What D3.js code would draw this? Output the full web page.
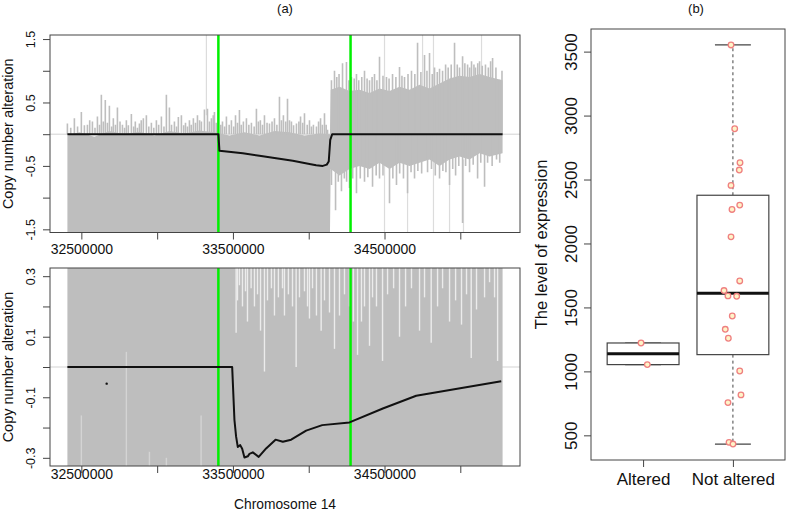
<!DOCTYPE html>
<html><head><meta charset="utf-8">
<script src="https://cdn.jsdelivr.net/npm/d3@7"></script>
<style>
body{margin:0;background:#fff}
text{font-family:"Liberation Sans",Arial,Helvetica,sans-serif;fill:#111}
</style></head>
<body>
<svg id="chart" width="787" height="515"></svg>
<script>
// ---------------- DATA ----------------
// genomic positions in Mb (labels shown in bp)
const probeRange = [32.408, 35.279];
const breakpoints = [33.404, 34.276];
const xTickPos = [32.5, 33.0, 33.5, 34.0, 34.5, 35.0];
const xTickLabels = ["32500000", "", "33500000", "", "34500000", ""];

const topYTicks = [-1.5, -1, -0.5, 0, 0.5, 1, 1.5];
const topYLabels = ["-1.5", "", "-0.5", "", "0.5", "", "1.5"];
const botYTicks = [-0.3, -0.2, -0.1, 0, 0.1, 0.2, 0.3];
const botYLabels = ["-0.3", "", "-0.1", "", "0.1", "", "0.3"];

// top panel: dense band of raw copy-number signal (envelope)
const topBodyPos = [32.408, 32.487, 32.586, 32.685, 32.784, 32.883, 32.982, 33.081, 33.180, 33.279, 33.378, 33.477, 33.576, 33.675, 33.774, 33.873, 33.972, 34.071, 34.140,
  34.145, 34.203, 34.269, 34.335, 34.401, 34.467, 34.533, 34.599, 34.665, 34.731, 34.797, 34.863, 34.929, 34.995, 35.061, 35.127, 35.193, 35.279];
const topBodyHigh = [-0.02, 0.03, -0.04, 0.05, 0.0, 0.04, -0.02, 0.05, 0.01, 0.06, 0.03, -0.02, 0.03, -0.02, 0.05, 0.03, -0.02, 0.01, 0.0,
  0.7, 0.75, 0.68, 0.7, 0.65, 0.72, 0.68, 0.75, 0.7, 0.78, 0.72, 0.8, 0.88, 0.92, 0.9, 0.95, 0.9, 0.85];
const topBodyLow = [-1.6, -1.6, -1.6, -1.6, -1.6, -1.6, -1.6, -1.6, -1.6, -1.6, -1.6, -1.6, -1.6, -1.6, -1.6, -1.6, -1.6, -1.6, -1.6,
  -0.55, -0.65, -0.55, -0.5, -0.55, -0.45, -0.55, -0.45, -0.5, -0.45, -0.4, -0.5, -0.4, -0.35, -0.4, -0.3, -0.35, -0.3];

// top panel: individual spikes of the raw signal
const topSpikePos = [32.408, 32.43, 32.454, 32.475, 32.50, 32.52, 32.54, 32.555, 32.573, 32.59, 32.606, 32.62, 32.632, 32.645, 32.658, 32.672, 32.685, 32.70, 32.711, 32.725, 32.738, 32.755, 32.771, 32.785, 32.797, 32.81, 32.83, 32.845, 32.856, 32.87, 32.883, 32.895, 32.909, 32.929, 32.945, 32.962, 32.978, 32.995, 33.01, 33.028, 33.045, 33.061, 33.081, 33.095, 33.114, 33.128, 33.140, 33.160, 33.175, 33.187, 33.20, 33.213, 33.225, 33.239, 33.253, 33.266, 33.28, 33.292, 33.312, 33.332, 33.345, 33.358, 33.37, 33.378, 33.39,
  33.42, 33.431, 33.445, 33.457, 33.475, 33.490, 33.505, 33.517, 33.53, 33.543, 33.555, 33.569, 33.589, 33.605, 33.622, 33.64, 33.655, 33.668, 33.681, 33.695, 33.708, 33.725, 33.741, 33.758, 33.774, 33.79, 33.807, 33.82, 33.833, 33.848, 33.860, 33.873, 33.886, 33.90, 33.919, 33.935, 33.946, 33.96, 33.972, 33.99, 34.005, 34.018, 34.031, 34.051, 34.065, 34.078, 34.09, 34.104, 34.115, 34.124,
  34.15, 34.17, 34.185, 34.20, 34.223, 34.249, 34.265, 34.282, 34.30, 34.315, 34.33, 34.35, 34.368, 34.385, 34.401, 34.418, 34.434, 34.45, 34.467, 34.49, 34.513, 34.53, 34.553, 34.575, 34.599, 34.615, 34.632, 34.655, 34.678, 34.70, 34.718, 34.74, 34.764, 34.78, 34.797, 34.815, 34.830, 34.848, 34.863, 34.883, 34.903, 34.92, 34.94, 34.962, 34.98, 34.995, 35.015, 35.03, 35.048, 35.062, 35.074, 35.09, 35.100, 35.115, 35.127, 35.145, 35.166, 35.185, 35.20, 35.213, 35.235, 35.259, 35.275,
  34.15, 34.177, 34.195, 34.216, 34.235, 34.250, 34.269, 34.29, 34.315, 34.34, 34.368, 34.39, 34.421, 34.445, 34.467, 34.49, 34.533, 34.555, 34.579, 34.60, 34.625, 34.652, 34.675, 34.698, 34.72, 34.745, 34.784, 34.81, 34.835, 34.863, 34.885, 34.905, 34.929, 34.95, 34.969, 34.99, 35.015, 35.035, 35.061, 35.085, 35.114, 35.135, 35.160, 35.18, 35.21, 35.239, 35.26];
const topSpikeVal = [0.17, 0.1, 0.25, 0.12, 0.35, 0.14, 0.15, 0.22, 0.2, 0.1, 0.28, 0.15, 0.62, 0.2, 0.54, 0.18, 0.45, 0.12, 0.25, 0.15, 0.42, 0.2, 0.15, 0.1, 0.22, 0.14, 0.32, 0.12, 0.2, 0.1, 0.17, 0.22, 0.25, 0.3, 0.12, 0.18, 0.1, 0.22, 0.15, 0.28, 0.12, 0.62, 0.42, 0.15, 0.2, 0.12, 0.27, 0.3, 0.14, 0.18, 0.12, 0.22, 0.15, 0.25, 0.18, 0.3, 0.22, 0.2, 0.39, 0.4, 0.2, 0.25, 0.3, 0.35, 0.18,
  0.15, 0.2, 0.12, 0.28, 0.15, 0.22, 0.12, 0.3, 0.18, 0.38, 0.15, 0.2, 0.25, 0.15, 0.18, 0.12, 0.4, 0.2, 0.22, 0.15, 0.3, 0.18, 0.17, 0.2, 0.25, 0.15, 0.59, 0.22, 0.3, 0.2, 0.56, 0.22, 0.2, 0.14, 0.17, 0.2, 0.28, 0.18, 0.33, 0.15, 0.22, 0.12, 0.15, 0.12, 0.2, 0.25, 0.15, 0.33, 0.15, 0.07,
  0.85, 1.0, 0.9, 0.95, 1.12, 1.14, 0.85, 0.9, 0.88, 0.95, 0.85, 0.9, 1.0, 0.88, 0.85, 0.9, 0.95, 0.85, 1.22, 0.92, 0.9, 0.88, 0.95, 0.9, 1.06, 0.92, 0.9, 0.95, 1.0, 0.95, 1.44, 0.98, 1.25, 1.0, 1.28, 0.95, 1.05, 0.98, 1.03, 1.0, 1.1, 1.05, 1.1, 1.44, 1.1, 1.05, 1.23, 1.12, 1.1, 1.05, 1.15, 1.1, 1.05, 1.12, 1.15, 1.08, 1.1, 1.05, 1.15, 1.2, 1.05, 0.86, 1.0,
  -0.8, -1.2, -0.75, -0.9, -0.7, -0.75, -0.85, -0.7, -0.93, -0.7, -0.75, -0.68, -0.83, -0.65, -0.7, -0.65, -1.09, -0.7, -0.8, -0.62, -0.7, -0.93, -0.6, -0.7, -0.58, -0.62, -0.6, -0.55, -0.65, -0.7, -0.58, -0.6, -0.8, -0.55, -0.65, -0.5, -1.4, -0.5, -0.6, -0.48, -0.7, -0.45, -0.83, -0.45, -0.5, -0.4, -0.45];

// top panel: isolated extreme probes (faint lines)
const topFaintPos = [33.325, 34.500, 34.652, 34.751, 34.823, 34.929, 35.021, 35.140];
const topFaintLo = [0.3, -1.6, -1.6, 0.5, -1.6, -1.6, -1.6, 0.5];
const topFaintHi = [1.6, 1.6, -0.4, 1.6, 1.6, -0.4, -0.4, 1.6];

// top panel: smoothed segment (black line)
const topLinePos = [32.408, 33.404, 33.411, 33.565, 33.675, 33.785, 33.895, 34.005, 34.049, 34.093, 34.119, 34.132, 34.142, 34.155, 35.279];
const topLineVal = [0, 0, -0.26, -0.30, -0.34, -0.38, -0.42, -0.47, -0.49, -0.50, -0.48, -0.43, -0.09, 0, 0];

// bottom panel: raw signal fills the whole window; white gaps at top
const botBodyPos = [32.408, 35.279];
const botBodyHigh = [0.34, 0.34];
const botBodyLow = [-0.34, -0.34];
const botGapPos = [33.521, 33.530, 33.543, 33.563, 33.583, 33.596, 33.620, 33.642, 33.662, 33.682, 33.708, 33.728, 33.754, 33.774, 33.800, 33.827, 33.840, 33.866, 33.893, 33.917, 33.939, 33.972, 33.992, 34.005, 34.025, 34.051, 34.082, 34.104, 34.137, 34.170, 34.203, 34.236, 34.269, 34.295, 34.322, 34.348, 34.368, 34.401, 34.421, 34.447, 34.487, 34.520, 34.560, 34.599, 34.639, 34.678, 34.731, 34.764, 34.808, 34.850, 34.883, 34.929, 34.969, 35.008, 35.041, 35.072, 35.107, 35.160, 35.193, 35.226, 35.246];
const botGapVal = [0.113, 0.22, 0.27, 0.2, 0.25, 0.15, 0.26, 0.2, 0.24, 0.12, -0.015, 0.22, 0.26, 0.17, 0.23, 0.26, 0.17, 0.24, 0.2, 0.0, 0.23, 0.25, 0.2, 0.16, 0.26, 0.17, 0.12, 0.22, 0.18, 0.06, 0.17, 0.24, 0.2, 0.15, 0.04, 0.15, 0.2, 0.07, 0.23, 0.2, 0.02, 0.24, 0.26, 0.1, 0.2, 0.26, 0.12, 0.23, 0.08, 0.2, 0.26, 0.15, 0.22, 0.14, 0.24, 0.03, 0.19, 0.23, 0.28, 0.23, 0.02];
const botLightPos = [32.500, 32.797, 32.949, 33.061, 33.290];
const botLightTop = [-0.16, 0.05, -0.28, -0.30, -0.16];
const botDot = [32.667, -0.055];

// bottom panel: smoothed signal (black line)
const botLinePos = [32.408, 33.495, 33.510, 33.521, 33.532, 33.548, 33.561, 33.576, 33.598, 33.609, 33.631, 33.670, 33.719, 33.781, 33.829, 33.884, 33.983, 34.089, 34.269, 34.489, 34.709, 35.270];
const botLineVal = [0, 0, -0.175, -0.23, -0.264, -0.258, -0.27, -0.299, -0.295, -0.287, -0.282, -0.297, -0.269, -0.24, -0.247, -0.24, -0.21, -0.192, -0.183, -0.137, -0.095, -0.047];

// panel (b): expression levels
const groups = ["Altered", "Not altered"];
const alteredValues = [1222, 1053];
const alteredJitter = [-0.023, 0.047];
const notAlteredValues = [3552, 2897, 2631, 2574, 2454, 2300, 2266, 2052, 1707, 1632, 1590, 1587, 1433, 1329, 1259, 1003, 816, 756, 445, 432];
const notAlteredJitter = [-0.021, 0.02, 0.079, 0.071, -0.021, 0.076, -0.01, -0.021, 0.076, -0.099, -0.055, 0.042, -0.007, -0.085, -0.051, 0.076, 0.09, -0.055, -0.043, 0.001];
const boxYTicks = [500, 1000, 1500, 2000, 2500, 3000, 3500];

// ---------------- DRAW ----------------
const svg = d3.select("#chart");
const GREY = "#bebebe";
const L = 50, R = 520;

const span = probeRange[1] - probeRange[0];
const x = d3.scaleLinear().domain([probeRange[0] - 0.04 * span, probeRange[1] + 0.04 * span]).range([L, R]);

function zipArr(a, b, c) { return a.map((v, i) => ({pos: v, a: b[i], b: c ? c[i] : null})); }

function drawPanel(cfg) {
  const {top, bottom, y, id} = cfg;
  const g = svg.append("g");
  g.append("clipPath").attr("id", id).append("rect")
    .attr("x", L).attr("y", top).attr("width", R - L).attr("height", bottom - top);
  const c = g.append("g").attr("clip-path", `url(#${id})`);

  c.append("line").attr("x1", L).attr("x2", R).attr("y1", y(0)).attr("y2", y(0))
    .attr("stroke", "#d3d3d3").attr("stroke-width", 1);

  cfg.drawSignal(c, y);

  c.selectAll("line.bp").data(breakpoints).join("line").attr("class", "bp")
    .attr("x1", d => x(d)).attr("x2", d => x(d)).attr("y1", top).attr("y2", bottom)
    .attr("stroke", "#00f000").attr("stroke-width", 2.5);

  const line = d3.line().x(d => x(d.pos)).y(d => y(d.a));
  c.append("path").datum(zipArr(cfg.linePos, cfg.lineVal)).attr("d", line)
    .attr("fill", "none").attr("stroke", "#111").attr("stroke-width", 2).attr("stroke-linejoin", "round");

  if (cfg.extra) cfg.extra(c, y);

  g.append("rect").attr("x", L).attr("y", top).attr("width", R - L).attr("height", bottom - top)
    .attr("fill", "none").attr("stroke", "#444").attr("stroke-width", 1);

  const xa = g.append("g").attr("transform", `translate(0,${bottom})`)
    .call(d3.axisBottom(x).tickValues(xTickPos).tickFormat((d, i) => xTickLabels[i]).tickSize(7).tickPadding(4));
  xa.select(".domain").remove();
  xa.selectAll("line").attr("stroke", "#444");
  xa.selectAll("text").attr("font-size", 14).attr("font-family", "Liberation Sans, Arial, sans-serif").attr("fill", "#111")
    .attr("dy", null).attr("y", cfg.xLabelBaseline - bottom);

  const ya = g.append("g").attr("transform", `translate(${L},0)`)
    .call(d3.axisLeft(y).tickValues(cfg.yTicks).tickFormat((d, i) => cfg.yLabels[i]).tickSize(7));
  ya.select(".domain").remove();
  ya.selectAll("line").attr("stroke", "#444");
  ya.selectAll("text").attr("font-size", 12.5).attr("font-family", "Liberation Sans, Arial, sans-serif").attr("fill", "#111")
    .attr("text-anchor", "middle").attr("dy", null).attr("x", 0).attr("y", -15).attr("transform", "rotate(-90)");

  g.append("text").attr("transform", `translate(13,${(top + bottom) / 2}) rotate(-90)`)
    .attr("text-anchor", "middle").attr("font-size", 14.5).text("Copy number alteration");
}

// top panel
const yTop = d3.scaleLinear().domain([-1.55, 1.564]).range([232.5, 35]);
drawPanel({
  id: "clipTop", top: 35, bottom: 232.5, y: yTop, xLabelBaseline: 254,
  yTicks: topYTicks, yLabels: topYLabels, linePos: topLinePos, lineVal: topLineVal,
  drawSignal: (c, y) => {
    c.selectAll("line.faint").data(zipArr(topFaintPos, topFaintLo, topFaintHi)).join("line").attr("class", "faint")
      .attr("x1", d => x(d.pos)).attr("x2", d => x(d.pos)).attr("y1", d => y(d.a)).attr("y2", d => y(d.b))
      .attr("stroke", "#dcdcdc").attr("stroke-width", 1.2);
    const area = d3.area().x(d => x(d.pos)).y0(d => y(d.b)).y1(d => y(d.a));
    c.append("path").datum(zipArr(topBodyPos, topBodyHigh, topBodyLow)).attr("d", area).attr("fill", GREY);
    c.selectAll("line.spike").data(zipArr(topSpikePos, topSpikeVal)).join("line").attr("class", "spike")
      .attr("x1", d => x(d.pos)).attr("x2", d => x(d.pos)).attr("y1", y(0)).attr("y2", d => y(d.a))
      .attr("stroke", GREY).attr("stroke-width", 1.6);
  }
});

// bottom panel
const yBot = d3.scaleLinear().domain([-0.327, 0.327]).range([466, 268]);
drawPanel({
  id: "clipBot", top: 268, bottom: 466, y: yBot, xLabelBaseline: 479,
  yTicks: botYTicks, yLabels: botYLabels, linePos: botLinePos, lineVal: botLineVal,
  drawSignal: (c, y) => {
    const area = d3.area().x(d => x(d.pos)).y0(d => y(d.b)).y1(d => y(d.a));
    c.append("path").datum(zipArr(botBodyPos, botBodyHigh, botBodyLow)).attr("d", area).attr("fill", GREY);
    c.selectAll("line.light").data(zipArr(botLightPos, botLightTop)).join("line").attr("class", "light")
      .attr("x1", d => x(d.pos)).attr("x2", d => x(d.pos)).attr("y1", y(-0.34)).attr("y2", d => y(d.a))
      .attr("stroke", "#d4d4d4").attr("stroke-width", 1.4);
    c.selectAll("line.gap").data(zipArr(botGapPos, botGapVal)).join("line").attr("class", "gap")
      .attr("x1", d => x(d.pos)).attr("x2", d => x(d.pos)).attr("y1", y(0.34)).attr("y2", d => y(d.a))
      .attr("stroke", "#fff").attr("stroke-opacity", 0.7).attr("stroke-width", 1.4);
  },
  extra: (c, y) => {
    c.append("circle").attr("cx", x(botDot[0])).attr("cy", y(botDot[1])).attr("r", 1.2).attr("fill", "#111");
  }
});

svg.append("text").attr("x", 285).attr("y", 509).attr("text-anchor", "middle").attr("font-size", 13.8).text("Chromosome 14");
svg.append("text").attr("x", 285).attr("y", 13).attr("text-anchor", "middle").attr("font-size", 13).text("(a)");

// ---------- panel (b) ----------
function fivenum(v) {
  const s = v.slice().sort((a, b) => a - b), n = s.length;
  const n4 = Math.floor((n + 3) / 2) / 2;
  return [1, n4, (n + 1) / 2, n + 1 - n4, n].map(k => 0.5 * (s[Math.floor(k) - 1] + s[Math.ceil(k) - 1]));
}
const groupData = [
  {name: groups[0], values: alteredValues, jitter: alteredJitter},
  {name: groups[1], values: notAlteredValues, jitter: notAlteredJitter}
];
groupData.forEach(gd => {
  const f = fivenum(gd.values);
  const iqr = f[3] - f[1];
  gd.q1 = f[1]; gd.med = f[2]; gd.q3 = f[3];
  gd.lo = d3.min(gd.values.filter(v => v >= f[1] - 1.5 * iqr));
  gd.hi = d3.max(gd.values.filter(v => v <= f[3] + 1.5 * iqr));
});
const allVals = alteredValues.concat(notAlteredValues);
const ext = d3.extent(allVals), er = ext[1] - ext[0];
const BL = 591, BR = 785, BT = 29, BB = 460;
const yB = d3.scaleLinear().domain([ext[0] - 0.04 * er, ext[1] + 0.04 * er]).range([BB, BT]);
const xr = 2.5 - 0.5;
const xB = d3.scaleLinear().domain([0.5 - 0.04 * xr, 2.5 + 0.04 * xr]).range([BL, BR]);
const bw = (xB(1) - xB(0)) * 0.8;

const gb = svg.append("g");
groupData.forEach((gd, i) => {
  const cx = xB(i + 1);
  gb.append("line").attr("x1", cx).attr("x2", cx).attr("y1", yB(gd.q3)).attr("y2", yB(gd.hi))
    .attr("stroke", "#444").attr("stroke-dasharray", "3,3");
  gb.append("line").attr("x1", cx).attr("x2", cx).attr("y1", yB(gd.q1)).attr("y2", yB(gd.lo))
    .attr("stroke", "#444").attr("stroke-dasharray", "3,3");
  [gd.hi, gd.lo].forEach(v => gb.append("line").attr("x1", cx - bw / 4).attr("x2", cx + bw / 4)
    .attr("y1", yB(v)).attr("y2", yB(v)).attr("stroke", "#444").attr("stroke-width", 1.2));
  gb.append("rect").attr("x", cx - bw / 2).attr("width", bw).attr("y", yB(gd.q3)).attr("height", yB(gd.q1) - yB(gd.q3))
    .attr("fill", "#fff").attr("stroke", "#444").attr("stroke-width", 1.2);
  gb.append("line").attr("x1", cx - bw / 2).attr("x2", cx + bw / 2).attr("y1", yB(gd.med)).attr("y2", yB(gd.med))
    .attr("stroke", "#111").attr("stroke-width", 3);
  gb.selectAll(null).data(gd.values.map((v, j) => ({v, j: gd.jitter[j]}))).join("circle")
    .attr("cx", d => xB(i + 1 + d.j)).attr("cy", d => yB(d.v)).attr("r", 2.8)
    .attr("fill", "#fff4c8").attr("stroke", "#ef8080").attr("stroke-width", 1.3);
});
gb.append("rect").attr("x", BL).attr("y", BT).attr("width", BR - BL).attr("height", BB - BT)
  .attr("fill", "none").attr("stroke", "#444").attr("stroke-width", 1);

const bya = gb.append("g").attr("transform", `translate(${BL},0)`)
  .call(d3.axisLeft(yB).tickValues(boxYTicks).tickFormat(d3.format("d")).tickSize(7));
bya.select(".domain").remove();
bya.selectAll("line").attr("stroke", "#444");
bya.selectAll("text").attr("font-size", 17).attr("font-family", "Liberation Sans, Arial, sans-serif").attr("fill", "#111")
  .attr("text-anchor", "middle").attr("dy", null).attr("x", 0).attr("y", -14).attr("transform", "rotate(-90)");

const bxa = gb.append("g").attr("transform", `translate(0,${BB})`)
  .call(d3.axisBottom(xB).tickValues([1, 2]).tickFormat((d, i) => groups[i]).tickSize(7));
bxa.select(".domain").remove();
bxa.selectAll("line").attr("stroke", "#444");
bxa.selectAll("text").attr("font-size", 17).attr("font-family", "Liberation Sans, Arial, sans-serif").attr("fill", "#111")
  .attr("dy", null).attr("y", 485 - BB);

svg.append("text").attr("transform", `translate(547,${(BT + BB) / 2}) rotate(-90)`)
  .attr("text-anchor", "middle").attr("font-size", 16.5).text("The level of expression");
svg.append("text").attr("x", 696).attr("y", 13).attr("text-anchor", "middle").attr("font-size", 13).text("(b)");
</script>
</body></html>
